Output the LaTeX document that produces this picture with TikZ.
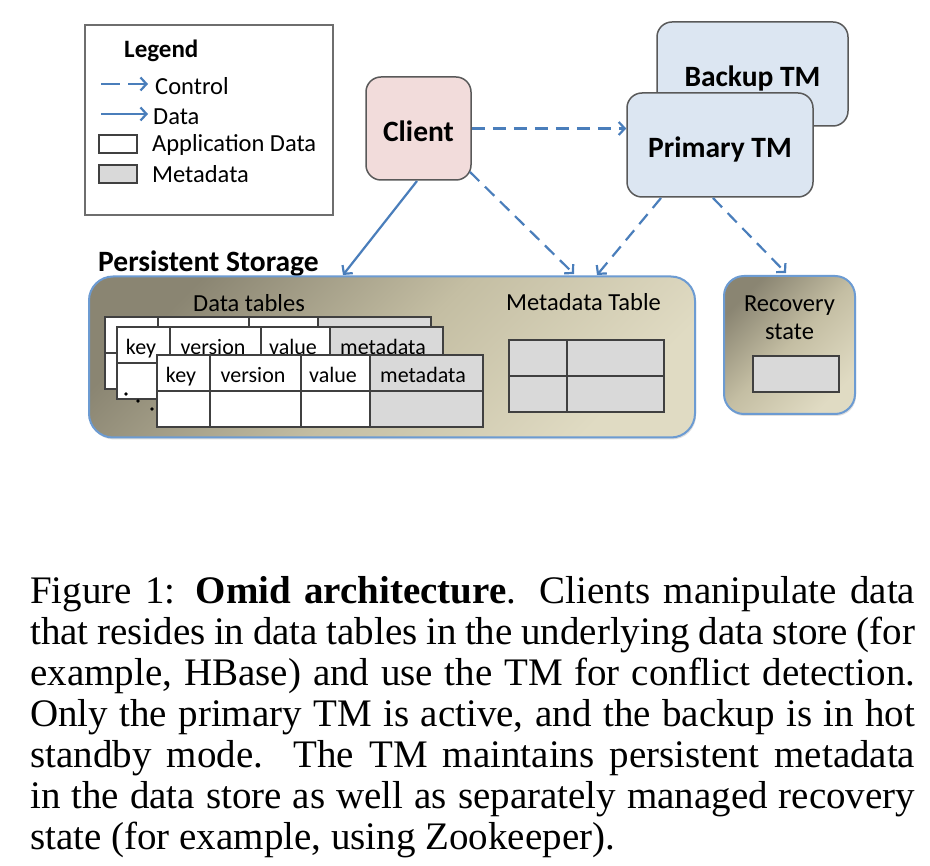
\documentclass[tikz,border=0pt]{standalone}
\usepackage{fontspec}
\setmainfont{Carlito}
\newfontfamily\capfont{Liberation Serif}
\usetikzlibrary{arrows.meta,calc,shadows}

\definecolor{arrowblue}{HTML}{4A7EBB}
\definecolor{boxline}{HTML}{595959}
\definecolor{legendline}{HTML}{6E6E6E}
\definecolor{clientfill}{HTML}{F2DCDB}
\definecolor{tmfill}{HTML}{DCE6F2}
\definecolor{stdark}{HTML}{8A8572}
\definecolor{stmid}{HTML}{C4BEA3}
\definecolor{stlight}{HTML}{E0DBC3}
\definecolor{stborder}{HTML}{6C9BD2}
\definecolor{metagray}{HTML}{D9D9D9}
\definecolor{tline}{HTML}{404040}

\newcommand\fsreg{\fontsize{24.5}{30}\selectfont}
\newcommand\fsbold{\fontsize{29.5}{32}\selectfont\bfseries}
\newcommand\fscell{\fontsize{22}{26}\selectfont}

\tikzset{
  flow/.style={draw=arrowblue, line width=2.2pt,
    -{Straight Barb[length=6pt,width=13pt]}},
  ctrl/.style={flow, dash pattern=on 13pt off 8pt},
  ctrllegend/.style={flow, dash pattern=on 19pt off 8pt},
  actor/.style={draw=boxline, line width=1.5pt, rounded corners=15pt,
    text height=26pt, text depth=0pt, inner sep=0pt, font=\fsbold},
  store/.style={draw=stborder, line width=2pt, rounded corners=24pt,
    top color=stdark, bottom color=stlight, middle color=stmid, shading angle=45,
    drop shadow={opacity=0.25, shadow xshift=1pt, shadow yshift=-2pt}},
  tbl/.style={draw=tline, line width=1.5pt},
  cell/.style={anchor=base, inner sep=0pt, font=\fscell},
  lbl/.style={anchor=base west, inner sep=0pt, font=\fsreg},
  lbltitle/.style={anchor=base west, inner sep=0pt, font=\fsbold},
}

\newcommand\tblgrid{%
    \fill[white] (0,0) rectangle (213,72);
    \fill[metagray] (213,0) rectangle (326,72);
    \draw[tbl] (0,0) rectangle (326,72);
    \draw[tbl] (0,36) -- (326,36);
    \foreach \cx in {53,144,213} \draw[tbl] (\cx,0) -- (\cx,72);}
\newcommand\datatbl[2]{%
  \begin{scope}[shift={#1}]
    \tblgrid
    \node (#2key) [cell] at (24,28) {key};
    \node (#2ver) [cell] at (96,28) {version};
    \node (#2val) [cell] at (176,28) {value};
    \node (#2meta) [cell] at (266,28) {metadata};
  \end{scope}}
\newcommand\datatblbare[1]{%
  \begin{scope}[shift={#1}]
    \tblgrid
  \end{scope}}

\begin{document}
\begin{tikzpicture}[x=1pt, y=-1pt]
\useasboundingbox (0,0) rectangle (930,866);
\fill[white] (0,0) rectangle (930,866);

% Legend
\node (legend) [draw=legendline, line width=1.5pt, minimum width=248pt, minimum height=190pt, inner sep=0pt] at (209,120) {};
\node (lgtitle) [lbltitle, font=\fontsize{25}{30}\selectfont\bfseries] at (124,58) {Legend};
\coordinate (lc1) at (101,84); \coordinate (lc2) at (148,84);
\draw[ctrllegend] (lc1) -- (lc2);
\node (lgctrl) [lbl] at (155,95) {Control};
\coordinate (ld1) at (101,114); \coordinate (ld2) at (148,114);
\draw[flow] (ld1) -- (ld2);
\node (lgdata) [lbl] at (153,125) {Data};
\node (lgappbox) [draw=tline, line width=1.5pt, fill=white, minimum width=38pt, minimum height=18pt, inner sep=0pt] at (118,144) {};
\node (lgapp) [lbl] at (152,152) {Application Data};
\node (lgmetabox) [draw=tline, line width=1.5pt, fill=metagray, minimum width=38pt, minimum height=18pt, inner sep=0pt] at (118,174) {};
\node (lgmeta) [lbl] at (152,183) {Metadata};

% Actors
\node (client) [actor, fill=clientfill, minimum width=105pt, minimum height=103pt] at (418.5,128.5) {Client};
\node (backup) [actor, fill=tmfill, minimum width=191pt, minimum height=104pt] at (752.5,74) {Backup TM};
\node (primary) [actor, fill=tmfill, minimum width=186pt, minimum height=104pt] at (720,145) {Primary TM};

% Storage
\node (pslabel) [lbltitle] at (98,272) {Persistent Storage};
\node (storage) [store, minimum width=606pt, minimum height=161pt, inner sep=0pt] at (392,357) {};
\node (recovery) [store, rounded corners=20pt, minimum width=131pt, minimum height=138pt, inner sep=0pt] at (789.5,345) {};

\node (dtlabel) [lbl] at (193,312) {Data tables};
\datatblbare{(105,317)}
\datatbl{(117,327)}{tB}
\datatbl{(157,355)}{tC}
\fill[black] (126,394) circle (1.8pt) (138,401) circle (1.8pt) (152,409) circle (1.8pt);

\node (mtlabel) [lbl] at (506,311) {Metadata Table};
\draw[tbl, fill=metagray] (509,340) rectangle (664,412);
\draw[tbl] (567,340) -- (567,412) (509,376) -- (664,376);

\node (rslabel) [anchor=base, inner sep=0pt, font=\fsreg] at (789.5,312) {Recovery};
\node (rslabel2) [anchor=base, inner sep=0pt, font=\fsreg] at (789.5,340) {state};
\draw[tbl, fill=metagray] (753,356) rectangle (839,392);

% Connectors
\coordinate (s1) at (343,275);
\coordinate (s2) at (574,274);
\coordinate (s3) at (597,275);
\coordinate (s4) at (786,273);
\coordinate (c1) at (417,181);
\coordinate (c2) at (470,172);
\coordinate (p1) at (661,198);
\coordinate (p2) at (713,198);
\draw[ctrl] (client.east) -- (client.east -| primary.west);
\draw[flow] (c1) -- (s1);
\draw[ctrl] (c2) -- (s2);
\draw[ctrl] (p1) -- (s3);
\draw[ctrl] (p2) -- (s4);

% Caption
\node (caption) [anchor=base west, inner sep=0pt] at (30,849) {\capfont\fontsize{39}{41}\selectfont
\vbox{\hsize=885pt \baselineskip=41pt
\hbox to\hsize{Figure 1: \textbf{Omid architecture}. Clients manipulate data}
\hbox to\hsize{that resides in data tables in the underlying data store (for}
\hbox to\hsize{example, HBase) and use the TM for conflict detection.}
\hbox to\hsize{Only the primary TM is active, and the backup is in hot}
\hbox to\hsize{standby mode.\ \ The TM maintains persistent metadata}
\hbox to\hsize{in the data store as well as separately managed recovery}
\hbox to\hsize{state (for example, using Zookeeper).\hfil}}};
\end{tikzpicture}
\end{document}
